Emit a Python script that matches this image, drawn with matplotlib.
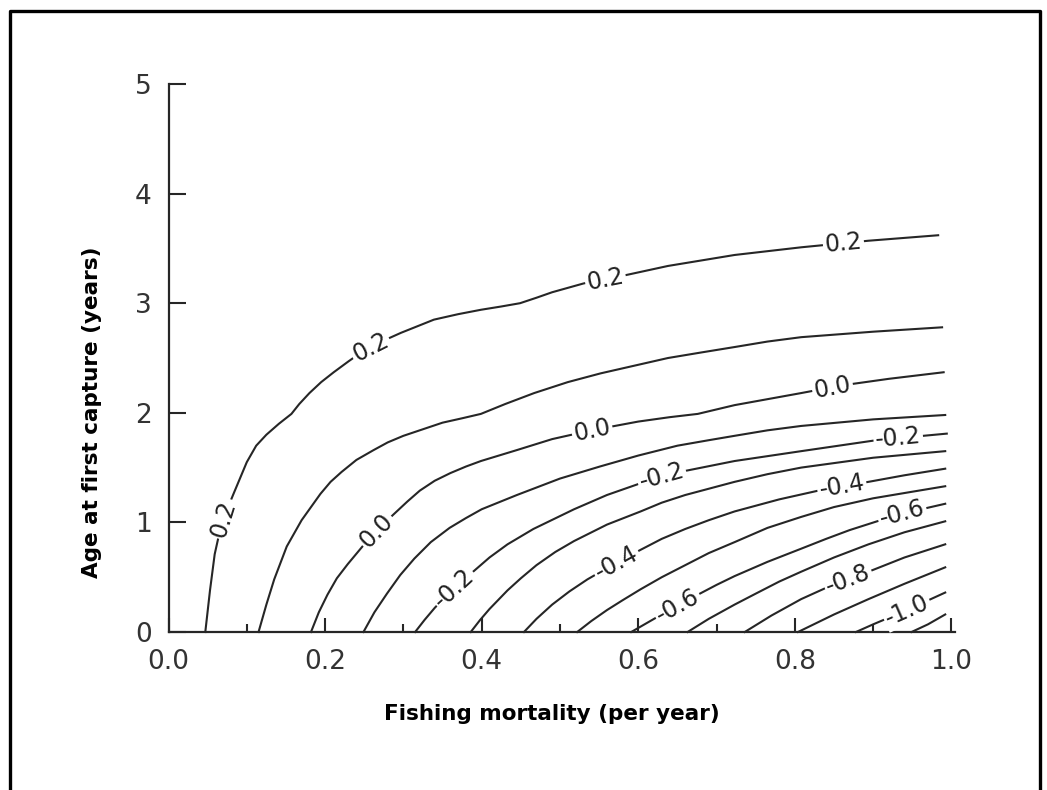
import numpy as np
import matplotlib.pyplot as plt
from matplotlib.lines import Line2D

# contour levels, outermost (top-left) curve first
niveles = [0.2, 0.1, 0.0, -0.1, -0.2, -0.3, -0.4, -0.5, -0.6, -0.7, -0.8, -0.9, -1.0, -1.1]

# points: fishing mortality (x), age at first capture (y)
c0_x = [0.047, 0.053, 0.059, 0.068, 0.083, 0.100, 0.112, 0.125, 0.141, 0.157, 0.167, 0.180,
        0.195, 0.211, 0.230, 0.250, 0.272, 0.297, 0.318, 0.339, 0.370, 0.399, 0.425, 0.449,
        0.470, 0.490, 0.530, 0.580, 0.638, 0.723, 0.808, 0.894, 0.983]
c0_y = [0.0, 0.38, 0.71, 1.0, 1.26, 1.55, 1.70, 1.80, 1.90, 1.99, 2.08, 2.18,
        2.28, 2.37, 2.47, 2.57, 2.65, 2.73, 2.79, 2.85, 2.90, 2.94, 2.97, 3.0,
        3.05, 3.10, 3.18, 3.25, 3.34, 3.44, 3.51, 3.57, 3.62]
c1_x = [0.115, 0.125, 0.135, 0.151, 0.170, 0.194, 0.207, 0.221, 0.240, 0.262, 0.280, 0.300,
        0.325, 0.350, 0.375, 0.399, 0.430, 0.467, 0.510, 0.552, 0.595, 0.638, 0.680, 0.723,
        0.765, 0.808, 0.900, 0.988]
c1_y = [0.0, 0.25, 0.48, 0.78, 1.02, 1.26, 1.37, 1.46, 1.57, 1.66, 1.73, 1.79,
        1.85, 1.91, 1.95, 1.99, 2.08, 2.18, 2.28, 2.36, 2.43, 2.50, 2.55, 2.60,
        2.65, 2.69, 2.74, 2.78]
c2_x = [0.182, 0.192, 0.203, 0.215, 0.229, 0.250, 0.268, 0.287, 0.305, 0.321, 0.340, 0.360,
        0.380, 0.399, 0.445, 0.490, 0.540, 0.600, 0.640, 0.676, 0.723, 0.808, 0.860, 0.920, 0.990]
c2_y = [0.0, 0.18, 0.34, 0.49, 0.62, 0.80, 0.94, 1.07, 1.19, 1.29, 1.38, 1.45,
        1.51, 1.56, 1.66, 1.76, 1.84, 1.92, 1.96, 1.99, 2.07, 2.18, 2.25, 2.31, 2.37]
c3_x = [0.249, 0.263, 0.279, 0.296, 0.314, 0.335, 0.359, 0.380, 0.400, 0.445, 0.500, 0.551,
        0.600, 0.650, 0.690, 0.723, 0.765, 0.808, 0.900, 0.992]
c3_y = [0.0, 0.18, 0.35, 0.52, 0.67, 0.82, 0.95, 1.04, 1.12, 1.25, 1.40, 1.51,
        1.61, 1.70, 1.75, 1.79, 1.84, 1.88, 1.94, 1.98]
c4_x = [0.315, 0.327, 0.340, 0.352, 0.365, 0.389, 0.410, 0.433, 0.466, 0.518, 0.560, 0.600,
        0.630, 0.660, 0.723, 0.808, 0.904, 0.994]
c4_y = [0.0, 0.11, 0.22, 0.31, 0.40, 0.55, 0.68, 0.80, 0.94, 1.12, 1.25, 1.35,
        1.42, 1.47, 1.56, 1.65, 1.75, 1.81]
c5_x = [0.386, 0.398, 0.410, 0.433, 0.450, 0.470, 0.494, 0.518, 0.560, 0.603, 0.630, 0.660,
        0.723, 0.765, 0.808, 0.900, 0.992]
c5_y = [0.0, 0.11, 0.21, 0.38, 0.49, 0.61, 0.73, 0.83, 0.98, 1.10, 1.18, 1.25,
        1.37, 1.44, 1.50, 1.59, 1.65]
c6_x = [0.454, 0.470, 0.490, 0.512, 0.535, 0.569, 0.603, 0.630, 0.660, 0.690, 0.723, 0.780,
        0.830, 0.862, 0.894, 0.940, 0.992]
c6_y = [0.0, 0.12, 0.25, 0.37, 0.48, 0.62, 0.75, 0.85, 0.94, 1.02, 1.10, 1.21,
        1.29, 1.33, 1.37, 1.43, 1.49]
c7_x = [0.522, 0.540, 0.560, 0.580, 0.603, 0.630, 0.660, 0.690, 0.723, 0.765, 0.808, 0.850,
        0.900, 0.950, 0.992]
c7_y = [0.0, 0.10, 0.20, 0.29, 0.39, 0.50, 0.61, 0.72, 0.82, 0.95, 1.05, 1.14,
        1.22, 1.28, 1.33]
c8_x = [0.591, 0.608, 0.625, 0.650, 0.676, 0.700, 0.723, 0.765, 0.808, 0.840, 0.870, 0.905,
        0.937, 0.992]
c8_y = [0.0, 0.07, 0.14, 0.24, 0.34, 0.43, 0.51, 0.64, 0.76, 0.85, 0.93, 1.01,
        1.08, 1.17]
c9_x = [0.663, 0.690, 0.723, 0.750, 0.780, 0.808, 0.850, 0.894, 0.940, 0.992]
c9_y = [0.0, 0.12, 0.25, 0.35, 0.46, 0.55, 0.68, 0.80, 0.91, 1.01]
c10_x = [0.736, 0.770, 0.808, 0.842, 0.868, 0.894, 0.940, 0.992]
c10_y = [0.0, 0.15, 0.30, 0.41, 0.48, 0.55, 0.68, 0.80]
c11_x = [0.804, 0.850, 0.894, 0.940, 0.992]
c11_y = [0.0, 0.16, 0.30, 0.44, 0.59]
c12_x = [0.878, 0.900, 0.943, 0.992]
c12_y = [0.0, 0.07, 0.20, 0.36]
c13_x = [0.949, 0.970, 0.992]
c13_y = [0.0, 0.07, 0.16]

curvas_x = [c0_x, c1_x, c2_x, c3_x, c4_x, c5_x, c6_x, c7_x, c8_x, c9_x, c10_x, c11_x, c12_x, c13_x]
curvas_y = [c0_y, c1_y, c2_y, c3_y, c4_y, c5_y, c6_y, c7_y, c8_y, c9_y, c10_y, c11_y, c12_y, c13_y]

# inline labels: (curve index, x where the label sits)
etiquetas = [(0, 0.070), (0, 0.258), (0, 0.558), (0, 0.862),
             (2, 0.266), (2, 0.541), (2, 0.848),
             (4, 0.365), (4, 0.630), (4, 0.932),
             (6, 0.572), (6, 0.860),
             (8, 0.650), (8, 0.937),
             (10, 0.868),
             (12, 0.943)]

xticks = [0.0, 0.2, 0.4, 0.6, 0.8, 1.0]
xticklabels = ["0.0", "0.2", "0.4", "0.6", "0.8", "1.0"]
xminor = [0.1, 0.3, 0.5, 0.7, 0.9]
yticks = [0, 1, 2, 3, 4, 5]

W, H = 1047, 790
tinta = '#262626'

fig = plt.figure(figsize=(W / 100, H / 100), dpi=100)
ax = fig.add_axes([168.5 / W, 1 - 632 / H, (955 - 168.5) / W, (632 - 84) / H])
ax.set_xlim(0, 1.0045)
ax.set_ylim(0, 5)

for cx, cy in zip(curvas_x, curvas_y):
    ax.plot(cx, cy, color=tinta, lw=1.5, zorder=2, clip_on=False,
            solid_joinstyle='round')

# labels rotated to follow the curve, with a white box that cuts the line
for i, xl in etiquetas:
    cx, cy = curvas_x[i], curvas_y[i]
    yl = np.interp(xl, cx, cy)
    p1 = ax.transData.transform((xl - 0.008, np.interp(xl - 0.008, cx, cy)))
    p2 = ax.transData.transform((xl + 0.008, np.interp(xl + 0.008, cx, cy)))
    ang = np.degrees(np.arctan2(p2[1] - p1[1], p2[0] - p1[0]))
    ax.text(xl, yl, f"{niveles[i]:.1f}", rotation=ang, rotation_mode='anchor',
            ha='center', va='center', fontsize=17, color='#222222', zorder=3,
            bbox=dict(boxstyle='square,pad=0.08', fc='white', ec='none'))

ax.spines['top'].set_visible(False)
ax.spines['right'].set_visible(False)
for s in ['left', 'bottom']:
    ax.spines[s].set_linewidth(1.6)
    ax.spines[s].set_color(tinta)

ax.set_xticks(xticks)
ax.set_xticklabels(xticklabels)
ax.set_xticks(xminor, minor=True)
ax.set_yticks(yticks)
ax.tick_params(axis='x', which='major', direction='in', length=10, width=1.5,
               pad=12, labelsize=19, color=tinta, labelcolor='#333333')
ax.tick_params(axis='x', which='minor', direction='in', length=6, width=1.5, color=tinta)
ax.tick_params(axis='y', direction='in', length=12, width=1.5,
               pad=12, labelsize=19, color=tinta, labelcolor='#333333')

fig.text(552 / W, 1 - 714 / H, "Fishing mortality (per year)", fontsize=15.5,
         fontweight='bold', ha='center', va='center')
fig.text(92 / W, 1 - 412 / H, "Age at first capture (years)", fontsize=15.5,
         fontweight='bold', ha='center', va='center', rotation=90)

# black frame round the picture (left, top, right)
fig.add_artist(Line2D([9.5 / W, 9.5 / W, 1040 / W, 1040 / W],
                      [0, 1 - 11 / H, 1 - 11 / H, 0], color='black', lw=2.4,
                      transform=fig.transFigure))

fig.savefig("out.png", dpi=100)
